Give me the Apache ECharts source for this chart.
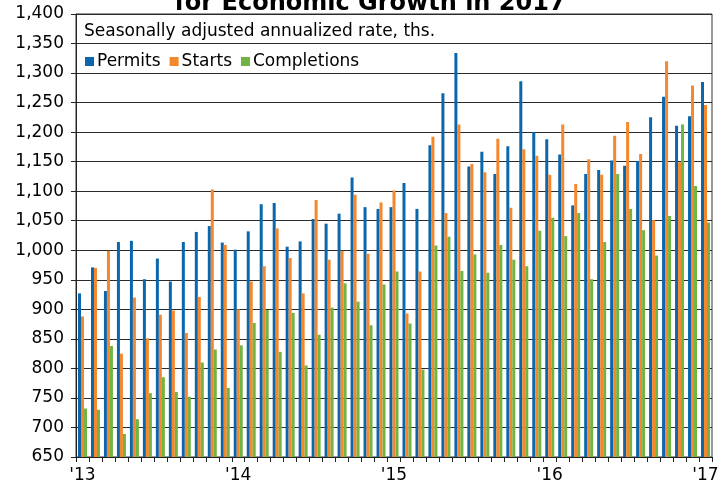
<!DOCTYPE html>
<html>
<head>
<meta charset="utf-8">
<script src="https://cdn.jsdelivr.net/npm/echarts@6/dist/echarts.min.js"></script>
<style>
html,body{margin:0;padding:0;background:#fff;}
#chart{width:727px;height:488px;}
</style>
</head>
<body>
<div id="chart"></div>
<script>
const categories = [
  "2013-01","2013-02","2013-03","2013-04","2013-05","2013-06","2013-07","2013-08","2013-09","2013-10","2013-11","2013-12",
  "2014-01","2014-02","2014-03","2014-04","2014-05","2014-06","2014-07","2014-08","2014-09","2014-10","2014-11","2014-12",
  "2015-01","2015-02","2015-03","2015-04","2015-05","2015-06","2015-07","2015-08","2015-09","2015-10","2015-11","2015-12",
  "2016-01","2016-02","2016-03","2016-04","2016-05","2016-06","2016-07","2016-08","2016-09","2016-10","2016-11","2016-12",
  "2017-01"
];
const xTickLabels = ["'13","'14","'15","'16","'17"];
const permits = [927,971,931,1014,1016,951,986,947,1014,1031,1041,1013,
  1001,1032,1078,1080,1006,1015,1053,1045,1062,1123,1073,1070,
  1073,1114,1070,1178,1266,1334,1142,1167,1129,1176,1286,1200,
  1188,1162,1076,1129,1136,1152,1143,1151,1225,1260,1211,1227,
  1285];
const starts = [888,970,999,825,920,851,891,898,860,921,1103,1009,
  900,947,973,1037,987,927,1085,984,999,1094,994,1081,
  1101,893,964,1192,1063,1213,1146,1132,1189,1072,1171,1160,
  1128,1213,1112,1154,1128,1194,1217,1163,1051,1320,1149,1279,
  1246];
const completions = [732,730,838,689,714,758,785,760,752,810,832,767,
  839,877,899,828,894,805,857,903,944,913,873,942,
  964,876,798,1008,1023,965,993,962,1009,984,973,1033,
  1055,1024,1063,951,1014,1129,1070,1034,991,1058,1213,1109,
  1047];
const titleText = "for Economic Growth in 2017";
const subtitleText = "Seasonally adjusted annualized rate, ths.";

const FONT = "DejaVu Sans";
const chart = echarts.init(document.getElementById('chart'), null, {renderer:'canvas'});
const fmt = v => String(v).replace(/\B(?=(\d{3})+(?!\d))/g, ',');

chart.setOption({
  animation: false,
  backgroundColor: '#fff',
  graphic: [
    {type:'text', x: 370, y: -8, style:{text: titleText, font: 'bold 24px "' + FONT + '"', fill:'#000', align:'center', verticalAlign:'top'}, z: 10},
    {type:'text', x: 84, y: 23, style:{text: subtitleText, font: '17px "' + FONT + '"', fill:'#000', align:'left', verticalAlign:'top'}, z: 10}
  ],
  legend: {
    left: 80, top: 48,
    icon: 'rect', itemWidth: 9, itemHeight: 9, itemGap: 9,
    textStyle: {fontFamily: FONT, fontSize: 17, color:'#000', padding:[0,0,0,-2]},
    data: ['Permits','Starts','Completions']
  },
  grid: {left: 76, right: 15, top: 14, bottom: 31, show: true, borderColor: '#333', borderWidth: 1},
  xAxis: {
    type: 'category',
    data: categories,
    axisLine: {lineStyle:{color:'#222', width:1}},
    axisTick: {show:true, interval:0, length:5, lineStyle:{color:'#222'}},
    axisLabel: {
      interval: (i) => i % 12 === 0,
      formatter: (v, i) => xTickLabels[Math.floor(i/12)],
      fontFamily: FONT, fontSize: 17, color:'#000', margin: 10
    },
    splitLine: {show:false}
  },
  yAxis: {
    type: 'value', min: 650, max: 1400, interval: 50,
    axisLine: {show:true, lineStyle:{color:'#222', width:1}},
    axisTick: {show:true, length:5, lineStyle:{color:'#222'}},
    axisLabel: {formatter: fmt, fontFamily: FONT, fontSize: 17, color:'#000', margin: 12},
    splitLine: {show:true, lineStyle:{color:'#2a2a2a', width:1}}
  },
  series: [
    {name:'Permits', type:'bar', data: permits, barWidth: 3, barGap: '0%', itemStyle:{color:'#0b66ac'}},
    {name:'Starts', type:'bar', data: starts, barWidth: 3, barGap: '0%', itemStyle:{color:'#f5872c'}},
    {name:'Completions', type:'bar', data: completions, barWidth: 3, barGap: '0%', itemStyle:{color:'#71b443'}}
  ]
});
</script>
</body>
</html>
